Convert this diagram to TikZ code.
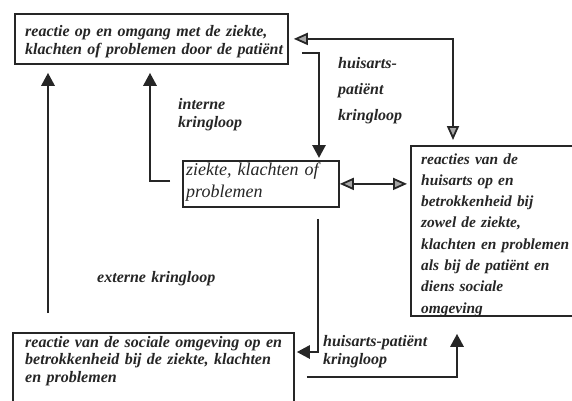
\documentclass[tikz,border=0pt]{standalone}
\usepackage{fontspec}
\setmainfont{Liberation Serif}
\usetikzlibrary{arrows.meta}
\definecolor{ink}{HTML}{262626}
\begin{document}
\begin{tikzpicture}[x=1pt,y=-1pt,
  boxframe/.style={draw=ink, line width=1.8pt, inner sep=0pt, anchor=north west},
  boxtext/.style={anchor=base west, inner sep=0pt, align=left, text=ink,
    execute at begin node={\hyphenpenalty=10000\exhyphenpenalty=10000},
    font=\fontsize{16}{18}\selectfont\bfseries\itshape},
  lbl/.style={anchor=base west, inner sep=0pt, align=left, text=ink, text width=130pt,
    execute at begin node={\hyphenpenalty=10000},
    font=\fontsize{16}{18}\selectfont\bfseries\itshape},
  conn/.style={draw=ink, line width=2.8pt, -{Triangle[length=13pt,width=13pt]}},
  dbl/.style={draw=ink, line width=1.8pt,
    {Triangle[length=14pt,width=12pt,fill=gray!70]}-{Triangle[length=14pt,width=12pt,fill=gray!70]}}]
\useasboundingbox (0,0) rectangle (572,400);
\fill[white] (0,0) rectangle (572,400);

% boxes
\node[boxframe, minimum width=273pt, minimum height=50pt] (top) at (14,13) {};
\node[boxframe, minimum width=156pt, minimum height=46pt] (mid) at (182,160) {};
\node[boxframe, minimum width=166pt, minimum height=170pt] (right) at (410,145) {};
\node[boxframe, minimum width=281pt, minimum height=75pt] (bot) at (12,332) {};

% box texts
\node[boxtext, text width=258pt] (toptext) at (25,36)
  {reactie op en omgang met de ziekte,\\klachten of problemen door de patiënt};
\node[boxtext, text width=150pt, font=\fontsize{18}{22}\selectfont\itshape] (midtext) at (186,175)
  {ziekte, klachten of\\problemen};
\node[boxtext, text width=175pt, font=\fontsize{15.4}{21.3}\selectfont\bfseries\itshape] (righttext) at (421,164)
  {reacties van de\\huisarts op en\\betrokkenheid bij\\zowel de ziekte,\\klachten en problemen\\als bij de patiënt en\\diens sociale\\omgeving};
\node[boxtext, text width=260pt, font=\fontsize{16}{17.5}\selectfont\bfseries\itshape] (bottext) at (25,347)
  {reactie van de sociale omgeving op en\\betrokkenheid bij de ziekte, klachten\\en problemen};

% labels
\node[lbl, font=\fontsize{16}{26}\selectfont\bfseries\itshape] (lblhp1) at (338,68) {huisarts-\\patiënt\\kringloop};
\node[lbl] (lblint) at (178,109) {interne\\kringloop};
\node[lbl] (lblext) at (97,282) {externe kringloop};
\node[lbl] (lblhp2) at (323,346) {huisarts-patiënt\\kringloop};

% connectors
\coordinate (extstart) at (48,313);
\draw[conn, shorten >=8pt] (extstart) -- (extstart |- top.south);
\draw[conn, shorten <=12pt, shorten >=8pt] ([yshift=3pt]mid.west) -| ([xshift=136pt]top.south west);
\draw[conn, shorten >=2pt] ([xshift=13pt,yshift=-14pt]top.east) -| ([xshift=137pt]mid.north west);
\draw[dbl, shorten <=5pt, shorten >=5pt] (top.east) -| ([xshift=43pt]right.north west);
\draw[dbl, shorten >=3pt] (mid.east) -- (mid.east -| right.west);
\draw[conn, shorten <=11pt, shorten >=2pt] ([xshift=136pt]mid.south west) |- ([yshift=-20pt]bot.north east);
\draw[conn, shorten <=12pt, shorten >=17pt] ([yshift=-45pt]bot.north east) -| ([xshift=47pt]right.south west);
\end{tikzpicture}
\end{document}
